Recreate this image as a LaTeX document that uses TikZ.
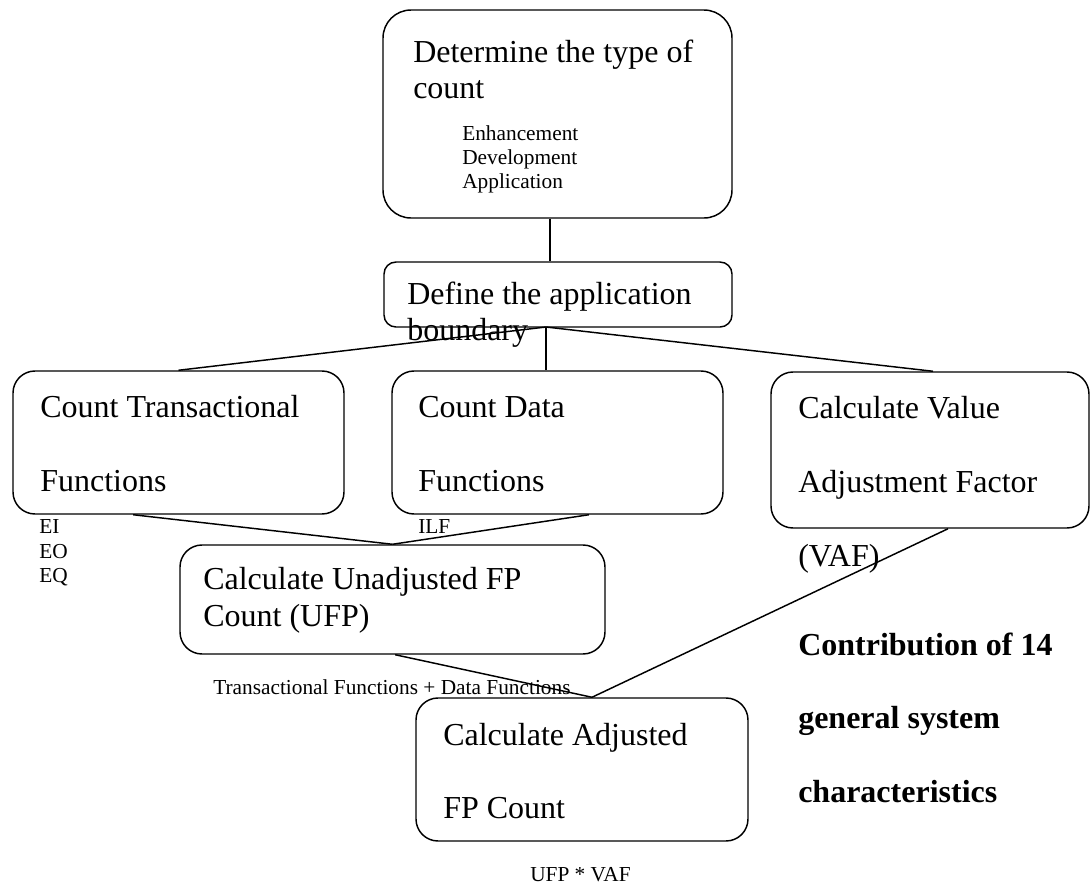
\documentclass[tikz,border=0pt]{standalone}
\usepackage{fontspec}
\setmainfont{Liberation Serif}
\tikzset{
  stepbox/.style={draw, line width=1.1pt, inner sep=0pt, rounded corners=16.5pt},
  bigtxt/.style={font=\fontsize{24}{27}\selectfont, anchor=base west, inner sep=0pt},
  smalltxt/.style={font=\fontsize{16}{18}\selectfont, anchor=base west, inner sep=0pt},
  boldtxt/.style={font=\fontsize{24}{27}\selectfont\bfseries, anchor=base west, inner sep=0pt},
  link/.style={line width=1.1pt},
}

\begin{document}
\begin{tikzpicture}[x=0.75pt,y=-0.75pt]
  \useasboundingbox (0,0) rectangle (1090,886);

  % boxes
  \node[stepbox, rounded corners=21pt, minimum width=261.75pt, minimum height=156pt] (typecount) at (557.5,114) {};
  \node[stepbox, rounded corners=9pt, minimum width=261pt, minimum height=48.75pt] (boundary) at (558,294.5) {};
  \node[stepbox, minimum width=248.25pt, minimum height=107.25pt] (transfn) at (178.5,442.5) {};
  \node[stepbox, minimum width=248.25pt, minimum height=107.25pt] (datafn) at (557.5,442.5) {};
  \node[stepbox, minimum width=238.5pt, minimum height=117pt] (vaf) at (930,450) {};
  \node[stepbox, minimum width=318.75pt, minimum height=81.75pt] (ufp) at (392.5,599.5) {};
  \node[stepbox, minimum width=249pt, minimum height=107.25pt] (afp) at (582,769.5) {};

  % connectors
  \coordinate (stem) at (550,240);
  \coordinate (split) at (546,327);
  \draw[link] (typecount.south -| stem) -- (boundary.north -| stem);
  \draw[link] (split) -- (transfn.north);
  \draw[link] (split) -- (split |- datafn.north);
  \draw[link] (split) -- ([xshift=2.25pt]vaf.north);
  \draw[link] ([xshift=-34pt]transfn.south) -- (ufp.north);
  \draw[link] ([xshift=23.6pt]datafn.south) -- (ufp.north);
  \draw[link] ([xshift=2pt]ufp.south) -- ([xshift=7.5pt]afp.north);
  \draw[link] ([xshift=13.5pt]vaf.south) -- ([xshift=7.5pt]afp.north);

  % texts
  \node[bigtxt] (typecount-a) at (413,62) {Determine the type of};
  \node[bigtxt] (typecount-b) at (413,98) {count};
  \node[smalltxt] (kind-a) at (462,140) {Enhancement};
  \node[smalltxt] (kind-b) at (462,164) {Development};
  \node[smalltxt] (kind-c) at (462,188) {Application};

  \node[bigtxt] (boundary-a) at (407,304) {Define the application};
  \node[bigtxt] (boundary-b) at (407,340) {boundary};

  \node[bigtxt] (transfn-a) at (40,417) {Count Transactional};
  \node[bigtxt] (transfn-b) at (40,491) {Functions};
  \node[bigtxt] (datafn-a) at (418,417) {Count Data};
  \node[bigtxt] (datafn-b) at (418,491) {Functions};
  \node[bigtxt] (vaf-a) at (798,418) {Calculate Value};
  \node[bigtxt] (vaf-b) at (798,492) {Adjustment Factor};
  \node[bigtxt] (vaf-c) at (798,566) {(VAF)};

  \node[smalltxt] (ei) at (39,533) {EI};
  \node[smalltxt] (eo) at (39,558) {EO};
  \node[smalltxt] (eq) at (39,582) {EQ};
  \node[smalltxt] (ilf) at (418,533) {ILF};

  \node[bigtxt] (ufp-a) at (203,589) {Calculate Unadjusted FP};
  \node[bigtxt] (ufp-b) at (203,626) {Count (UFP)};
  \node[smalltxt] (ufp-sum) at (213,694) {Transactional Functions + Data Functions};

  \node[bigtxt] (afp-a) at (443,745) {Calculate Adjusted};
  \node[bigtxt] (afp-b) at (443,818) {FP Count};
  \node[smalltxt] (afp-prod) at (530,881) {UFP * VAF};

  \node[boldtxt] (gsc-a) at (798,655) {Contribution of 14};
  \node[boldtxt] (gsc-b) at (798,728) {general system};
  \node[boldtxt] (gsc-c) at (798,802) {characteristics};
\end{tikzpicture}
\end{document}
